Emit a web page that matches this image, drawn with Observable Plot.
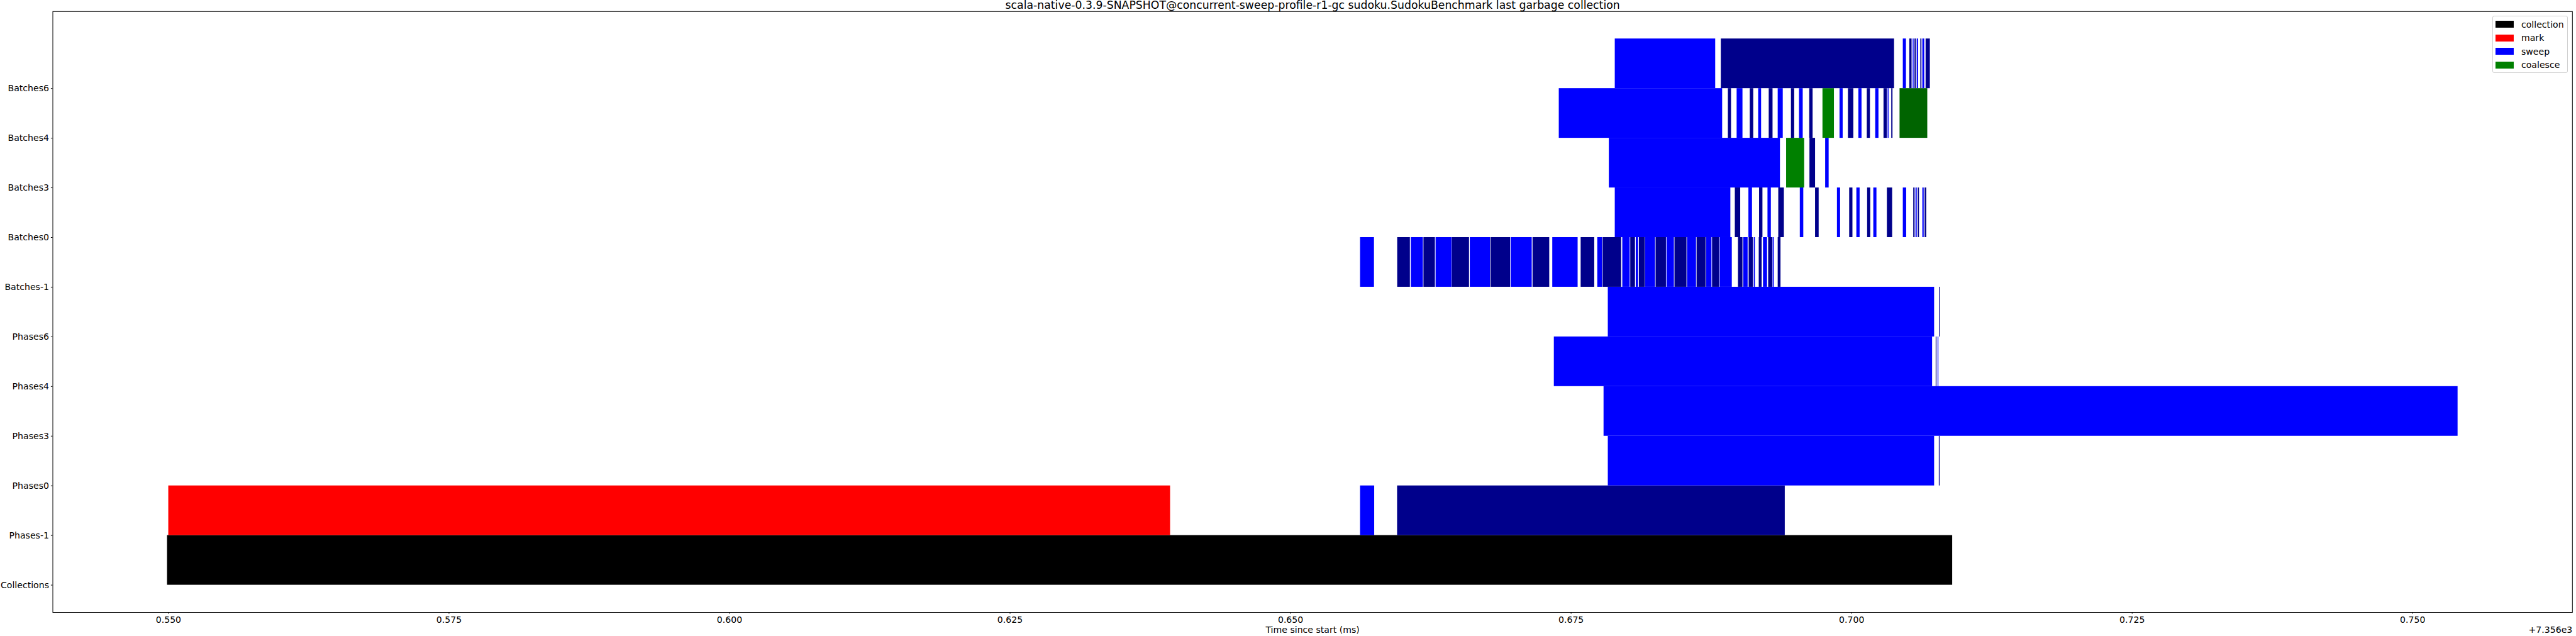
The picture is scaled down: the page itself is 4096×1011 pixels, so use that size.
<!DOCTYPE html>
<html>
<head>
<meta charset="utf-8">
<script src="https://cdn.jsdelivr.net/npm/d3@7"></script>
<script src="https://cdn.jsdelivr.net/npm/@observablehq/plot@0.6"></script>
<style>
  html, body { margin: 0; padding: 0; background: #fff; }
  #wrap { position: relative; width: 4096px; height: 1011px; font-family: "DejaVu Sans", sans-serif; }
  #legend { position: absolute; left: 3963px; top: 25.3px; width: 120px; height: 90.5px; box-sizing: border-box;
    border: 1px solid #d0d0d0; border-radius: 3px; background: rgba(255,255,255,0.8); padding: 1.5px 0 0 0; font-size: 14.1px; }
  .item { height: 21.6px; display: flex; align-items: center; }
  .sw { width: 29px; height: 11px; margin-left: 4.4px; margin-right: 11.6px; }
</style>
</head>
<body>
<div id="wrap"><div id="legend"></div></div>
<script>
// ---- data (times in ms, shown relative to the axis offset 7356) ----
const OFFSET = 7356;
const title = "scala-native-0.3.9-SNAPSHOT@concurrent-sweep-profile-r1-gc sudoku.SudokuBenchmark last garbage collection";
const xLabel = "Time since start (ms)";
const rowLabels = ["Collections", "Phases-1", "Phases0", "Phases3", "Phases4", "Phases6",
                   "Batches-1", "Batches0", "Batches3", "Batches4", "Batches6"];
const xTicks = [0.550, 0.575, 0.600, 0.625, 0.650, 0.675, 0.700, 0.725, 0.750];
const legendKinds = ["collection", "mark", "sweep", "coalesce"];
const kinds = ["collection", "mark", "sweep", "sweep-alt", "coalesce", "coalesce-alt"];
const kindColors = ["#000000", "#ff0000", "#0000ff", "#00008b", "#008000", "#006400"];

const collections = [[0.54990, 0.70899, "collection"]];
const phasesM1 = [[0.55001, 0.63929, "mark"], [0.65622, 0.65748, "sweep"], [0.65952, 0.69407, "sweep-alt"]];
const phases0 = [[0.67830, 0.70738, "sweep"], [0.70780, 0.70787, "sweep-alt"]];
const phases3 = [[0.67792, 0.75403, "sweep"]];
const phases4 = [[0.67349, 0.70720, "sweep"], [0.70752, 0.70759, "sweep-alt"], [0.70769, 0.70776, "sweep"]];
const phases6 = [[0.67830, 0.70738, "sweep"], [0.70783, 0.70790, "sweep-alt"]];
const batchesM1 = [
  [0.65622, 0.65746, "sweep"], [0.65953, 0.66066, "sweep-alt"], [0.66074, 0.66182, "sweep"],
  [0.66187, 0.66289, "sweep-alt"], [0.66295, 0.66437, "sweep"], [0.66440, 0.66593, "sweep-alt"],
  [0.66600, 0.66779, "sweep"], [0.66784, 0.66959, "sweep-alt"], [0.66964, 0.67152, "sweep"],
  [0.67159, 0.67308, "sweep-alt"], [0.67335, 0.67561, "sweep"], [0.67588, 0.67709, "sweep-alt"],
  [0.67736, 0.67779, "sweep"], [0.67784, 0.67949, "sweep-alt"], [0.67959, 0.68025, "sweep"],
  [0.68030, 0.68072, "sweep-alt"], [0.68079, 0.68100, "sweep"], [0.68107, 0.68160, "sweep-alt"],
  [0.68163, 0.68251, "sweep"], [0.68256, 0.68348, "sweep-alt"], [0.68353, 0.68419, "sweep"],
  [0.68424, 0.68531, "sweep-alt"], [0.68536, 0.68616, "sweep"], [0.68621, 0.68702, "sweep-alt"],
  [0.68707, 0.68754, "sweep"], [0.68759, 0.68822, "sweep-alt"], [0.68827, 0.68935, "sweep"],
  [0.68990, 0.69030, "sweep-alt"], [0.69037, 0.69076, "sweep"], [0.69085, 0.69123, "sweep-alt"],
  [0.69131, 0.69141, "sweep"], [0.69175, 0.69201, "sweep-alt"], [0.69213, 0.69249, "sweep"],
  [0.69259, 0.69296, "sweep-alt"], [0.69299, 0.69309, "sweep"], [0.69344, 0.69369, "sweep-alt"]
];
const batches0 = [
  [0.67892, 0.68922, "sweep"], [0.68962, 0.69010, "sweep-alt"], [0.69083, 0.69115, "sweep"],
  [0.69178, 0.69208, "sweep-alt"], [0.69253, 0.69283, "sweep"], [0.69349, 0.69399, "sweep-alt"],
  [0.69541, 0.69572, "sweep"], [0.69677, 0.69709, "sweep-alt"], [0.69872, 0.69900, "sweep"],
  [0.69981, 0.70010, "sweep-alt"], [0.70045, 0.70074, "sweep"], [0.70141, 0.70169, "sweep-alt"],
  [0.70196, 0.70224, "sweep"], [0.70317, 0.70364, "sweep-alt"], [0.70459, 0.70489, "sweep"],
  [0.70552, 0.70564, "sweep-alt"], [0.70572, 0.70583, "sweep"], [0.70592, 0.70603, "sweep-alt"],
  [0.70633, 0.70645, "sweep"], [0.70653, 0.70668, "sweep-alt"]
];
const batches3 = [
  [0.67839, 0.69364, "sweep"], [0.69419, 0.69580, "coalesce"], [0.69627, 0.69677, "sweep-alt"],
  [0.69767, 0.69798, "sweep"]
];
const batches4 = [
  [0.67393, 0.68849, "sweep"], [0.68900, 0.68928, "sweep-alt"], [0.68978, 0.69030, "sweep"],
  [0.69095, 0.69126, "sweep-alt"], [0.69170, 0.69196, "sweep"], [0.69264, 0.69298, "sweep-alt"],
  [0.69344, 0.69389, "sweep"], [0.69462, 0.69491, "sweep-alt"], [0.69534, 0.69567, "sweep"],
  [0.69625, 0.69655, "sweep-alt"], [0.69743, 0.69845, "coalesce"], [0.69895, 0.69923, "sweep"],
  [0.69970, 0.70018, "sweep-alt"], [0.70063, 0.70091, "sweep"], [0.70138, 0.70166, "sweep-alt"],
  [0.70213, 0.70242, "sweep"], [0.70287, 0.70317, "sweep-alt"], [0.70324, 0.70332, "sweep"],
  [0.70356, 0.70367, "sweep-alt"], [0.70430, 0.70677, "coalesce-alt"]
];
const batches6 = [
  [0.67892, 0.68787, "sweep"], [0.68837, 0.70381, "sweep-alt"], [0.70459, 0.70487, "sweep"],
  [0.70517, 0.70537, "sweep-alt"], [0.70547, 0.70555, "sweep"], [0.70563, 0.70575, "sweep-alt"],
  [0.70583, 0.70595, "sweep"], [0.70615, 0.70625, "sweep-alt"], [0.70633, 0.70650, "sweep"],
  [0.70662, 0.70700, "sweep-alt"]
];
const rowsData = [collections, phasesM1, phases0, phases3, phases4, phases6,
                  batchesM1, batches0, batches3, batches4, batches6];

// ---- build table ----
const segs = [];
rowsData.forEach((list, i) => list.forEach(([s, e, k]) => segs.push({row: i, start: s, end: e, kind: k})));
const xmin = d3.min(segs, d => d.start), xmax = d3.max(segs, d => d.end);
const xr = xmax - xmin;
const nRows = rowLabels.length;

const chart = Plot.plot({
  width: 4096,
  height: 1011,
  marginLeft: 83.5,
  marginRight: 6.2,
  marginTop: 17.8,
  marginBottom: 38,
  style: {fontFamily: "DejaVu Sans, sans-serif", fontSize: "14.1px", background: "white", color: "black", overflow: "visible"},
  x: {domain: [xmin - 0.05 * xr, xmax + 0.05 * xr]},
  y: {domain: [-0.05 * nRows, nRows * 1.05]},
  color: {type: "ordinal", domain: kinds, range: kindColors},
  marks: [
    Plot.rect(segs, {x1: "start", x2: "end", y1: "row", y2: d => d.row + 1, fill: "kind"}),
    Plot.frame({stroke: "black", strokeWidth: 1}),
    Plot.axisX({ticks: xTicks, tickFormat: d3.format(".3f"), tickSize: 2.6, tickPadding: 3.9, label: null}),
    Plot.axisY({ticks: d3.range(nRows), tickFormat: i => rowLabels[i], tickSize: 2.6, tickPadding: 3.4, label: null}),
    Plot.text([title], {text: d => d, frameAnchor: "top", lineAnchor: "bottom", dy: -4.5, fontSize: 17.3}),
    Plot.text([xLabel], {text: d => d, frameAnchor: "bottom", lineAnchor: "bottom", dy: 32.6}),
    Plot.text(["+" + (OFFSET / 1000).toFixed(3) + "e3"], {text: d => d, frameAnchor: "bottom-right", textAnchor: "end", lineAnchor: "bottom", dy: 32.6})
  ]
});
const wrap = document.getElementById("wrap");
wrap.insertBefore(chart, wrap.firstChild);

// ---- legend ----
const legend = document.getElementById("legend");
legendKinds.forEach(k => {
  const item = document.createElement("div");
  item.className = "item";
  const sw = document.createElement("div");
  sw.className = "sw";
  sw.style.background = kindColors[kinds.indexOf(k)];
  const lab = document.createElement("span");
  lab.textContent = k;
  item.appendChild(sw);
  item.appendChild(lab);
  legend.appendChild(item);
});
</script>
</body>
</html>
